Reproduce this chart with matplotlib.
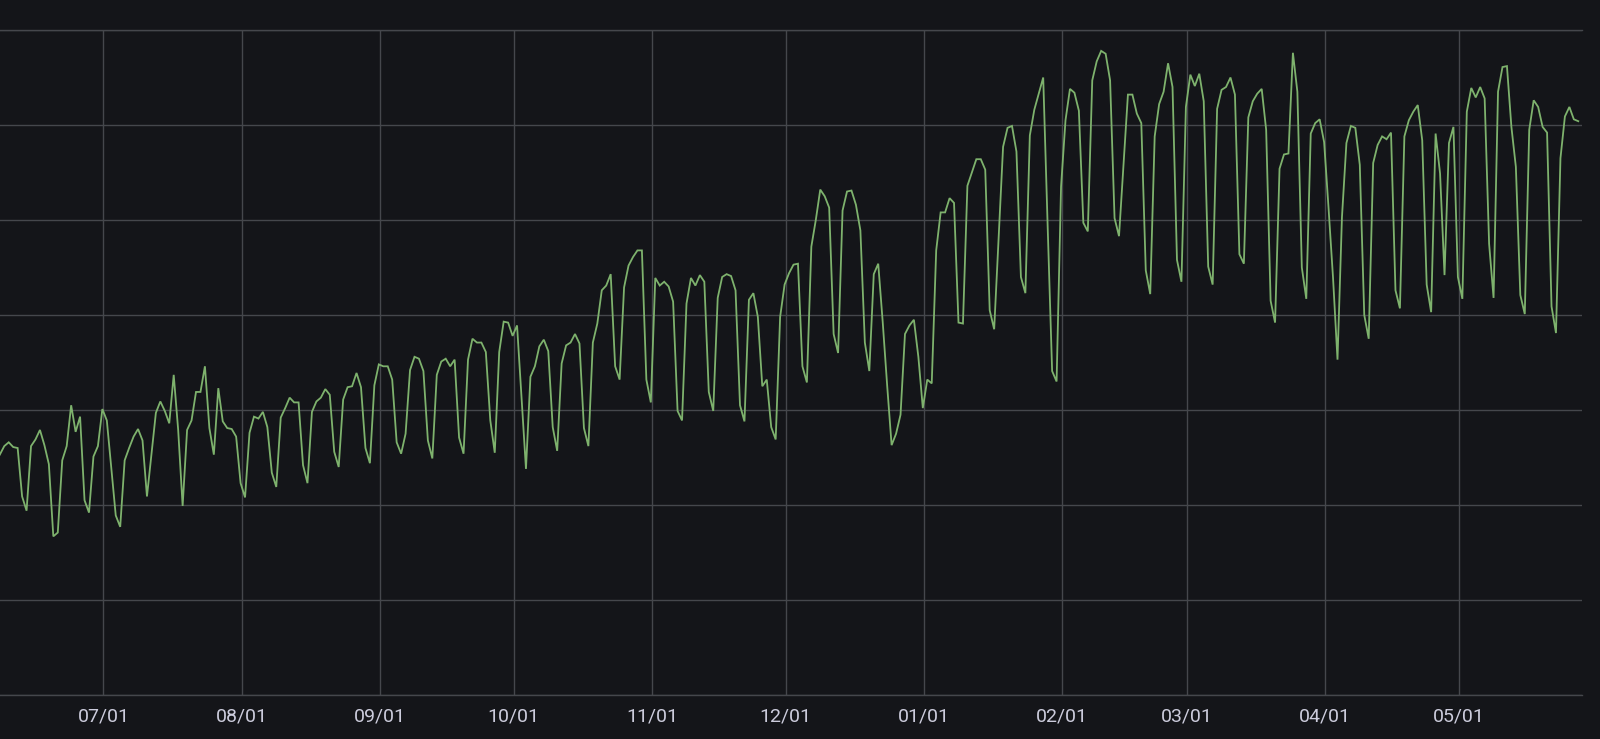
import matplotlib
matplotlib.use("Agg")
import matplotlib.pyplot as plt
import matplotlib.dates as mdates
import numpy as np
import pandas as pd

# Daily values, 2020-06-08 .. 2021-05-28 (gridlines every 100 units)
jun = [253, 262, 266, 261, 260, 209, 194, 262, 269, 279, 263, 243, 167, 171, 247, 262,
       305, 277, 293, 205, 192, 251, 262]
jul = [301, 289, 239, 189, 177, 247, 260, 272, 280, 268, 209, 253, 297, 309, 299, 286,
       337, 279, 199, 279, 289, 319, 319, 346, 281, 253, 323, 288, 281, 280, 272]
aug = [223, 208, 276, 293, 291, 298, 282, 234, 219, 292, 302, 313, 308, 308, 242, 223,
       298, 309, 313, 322, 316, 256, 240, 311, 324, 325, 339, 324, 260, 244, 326]
sep = [348, 346, 346, 332, 266, 254, 275, 342, 356, 354, 341, 268, 249, 337, 351, 354,
       346, 353, 271, 254, 353, 375, 371, 371, 361, 289, 255, 361, 393, 392]
oct_ = [378, 389, 313, 238, 335, 346, 367, 374, 362, 282, 257, 349, 368, 371, 380, 370,
        281, 262, 371, 391, 426, 431, 443, 346, 332, 429, 452, 461, 468, 468, 332]
nov = [308, 439, 431, 435, 430, 414, 299, 289, 412, 439, 431, 442, 435, 319, 299, 418,
       440, 443, 441, 426, 305, 288, 416, 423, 398, 325, 332, 282, 269, 398]
dec = [432, 444, 453, 454, 346, 329, 472, 500, 532, 525, 513, 380, 360, 510, 530, 531,
       516, 489, 371, 341, 443, 454, 393, 326, 263, 275, 295, 380, 389, 395, 356]
jan = [302, 332, 328, 468, 508, 508, 523, 518, 392, 391, 536, 550, 564, 564, 553, 405,
       385, 482, 577, 597, 599, 572, 440, 423, 589, 616, 633, 650, 493, 341, 330]
feb = [535, 605, 638, 634, 615, 497, 488, 647, 667, 678, 675, 647, 502, 483, 558, 632,
       632, 612, 602, 447, 422, 588, 622, 635, 665, 640, 458, 435]
mar = [619, 653, 641, 654, 625, 451, 432, 617, 637, 640, 650, 632, 464, 454, 608, 625,
       633, 638, 595, 415, 392, 554, 569, 570, 676, 635, 450, 417, 591, 602, 606]
apr = [582, 512, 439, 353, 503, 581, 599, 597, 558, 400, 375, 560, 579, 588, 585, 592,
       426, 407, 588, 605, 614, 621, 584, 432, 403, 591, 549, 442, 581, 598]
may = [440, 417, 614, 639, 629, 640, 628, 475, 418, 635, 661, 662, 598, 556, 421, 401,
       595, 626, 619, 598, 592, 409, 381, 565, 609, 619, 606, 604]

values = jun + jul + aug + sep + oct_ + nov + dec + jan + feb + mar + apr + may
start_date = "2020-06-08"
dates = pd.date_range(start_date, periods=len(values), freq="D") - pd.Timedelta(hours=6)

month_ticks = pd.date_range("2020-07-01", "2021-05-01", freq="MS")

BG = "#141519"
GRID = "#45474c"
LINE = "#7eb26d"
TEXT = "#ccccdc"

plt.rcParams["font.family"] = ["Roboto", "DejaVu Sans"]

fig = plt.figure(figsize=(16, 7.39), dpi=100, facecolor=BG)
ax = fig.add_axes([0.0, 695 and (739 - 695) / 739, 1582 / 1600, (695 - 30) / 739])
ax.set_facecolor(BG)

ax.plot(dates, values, color=LINE, linewidth=1.3, solid_joinstyle="miter")

ax.set_xlim(pd.Timestamp("2020-06-07 19:00"), pd.Timestamp("2021-05-28 14:00"))
ax.set_ylim(0, 700)
ax.set_yticks(np.arange(0, 701, 100))
ax.set_yticklabels([])
ax.set_xticks(month_ticks)
ax.xaxis.set_major_formatter(mdates.DateFormatter("%m/%d"))

ax.grid(True, color=GRID, linewidth=1.0)
ax.set_axisbelow(True)
ax.tick_params(axis="both", length=0)
ax.tick_params(axis="x", colors=TEXT, labelsize=14, pad=9)

for side in ["left", "right"]:
    ax.spines[side].set_visible(False)
for side in ["top", "bottom"]:
    ax.spines[side].set_color(GRID)
    ax.spines[side].set_linewidth(1.0)

fig.savefig("out.png", dpi=100, facecolor=BG)
